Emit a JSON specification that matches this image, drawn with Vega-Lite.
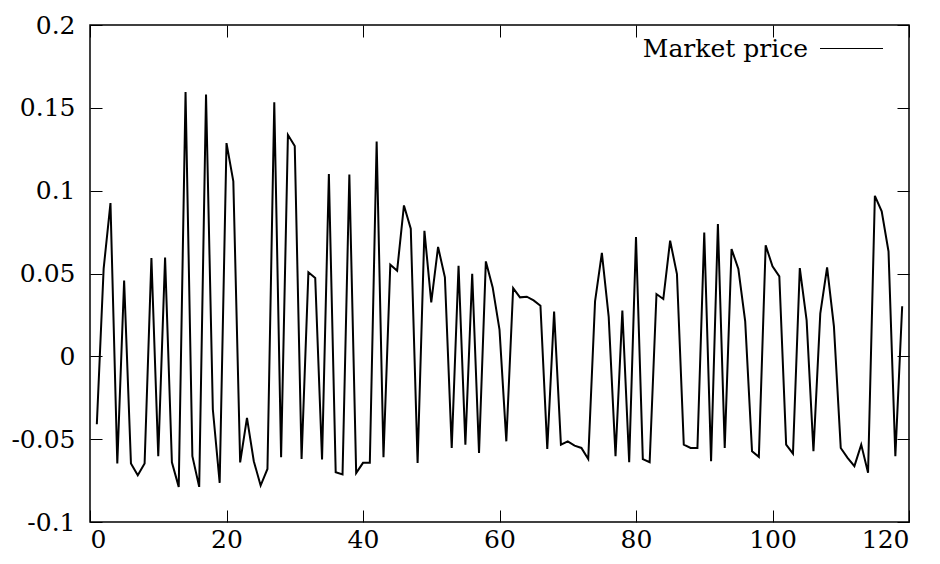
{
  "$schema": "https://vega.github.io/schema/vega-lite/v6.json",
  "width": 819,
  "height": 497,
  "autosize": {"type": "none"},
  "padding": {"left": 90, "top": 25, "right": 31, "bottom": 42},
  "background": "white",
  "config": {
    "view": {"stroke": "black", "strokeWidth": 1.5},
    "axis": {
      "grid": false,
      "domain": false,
      "ticks": true,
      "tickSize": -12,
      "tickColor": "black",
      "tickWidth": 1,
      "labelFont": "DejaVu Serif",
      "labelFontSize": 25,
      "labelColor": "black",
      "title": null
    }
  },
  "data": {
    "values": [
      {"x": 1, "y": -0.041}, {"x": 2, "y": 0.053}, {"x": 3, "y": 0.0925}, {"x": 4, "y": -0.0647},
      {"x": 5, "y": 0.0458}, {"x": 6, "y": -0.0647}, {"x": 7, "y": -0.0718}, {"x": 8, "y": -0.0647},
      {"x": 9, "y": 0.0593}, {"x": 10, "y": -0.0603}, {"x": 11, "y": 0.0597}, {"x": 12, "y": -0.064},
      {"x": 13, "y": -0.0788}, {"x": 14, "y": 0.1595}, {"x": 15, "y": -0.0603}, {"x": 16, "y": -0.0788},
      {"x": 17, "y": 0.158}, {"x": 18, "y": -0.0321}, {"x": 19, "y": -0.0764}, {"x": 20, "y": 0.1287},
      {"x": 21, "y": 0.1056}, {"x": 22, "y": -0.064}, {"x": 23, "y": -0.0372}, {"x": 24, "y": -0.0633},
      {"x": 25, "y": -0.078}, {"x": 26, "y": -0.068}, {"x": 27, "y": 0.1534}, {"x": 28, "y": -0.0609},
      {"x": 29, "y": 0.1337}, {"x": 30, "y": 0.127}, {"x": 31, "y": -0.062}, {"x": 32, "y": 0.0507},
      {"x": 33, "y": 0.0473}, {"x": 34, "y": -0.0623}, {"x": 35, "y": 0.11}, {"x": 36, "y": -0.07},
      {"x": 37, "y": -0.0713}, {"x": 38, "y": 0.1098}, {"x": 39, "y": -0.0705}, {"x": 40, "y": -0.0643},
      {"x": 41, "y": -0.0643}, {"x": 42, "y": 0.1297}, {"x": 43, "y": -0.0609}, {"x": 44, "y": 0.0553},
      {"x": 45, "y": 0.0517}, {"x": 46, "y": 0.0911}, {"x": 47, "y": 0.077}, {"x": 48, "y": -0.0643},
      {"x": 49, "y": 0.0758}, {"x": 50, "y": 0.0326}, {"x": 51, "y": 0.066}, {"x": 52, "y": 0.0477},
      {"x": 53, "y": -0.0553}, {"x": 54, "y": 0.0547}, {"x": 55, "y": -0.0533}, {"x": 56, "y": 0.0499},
      {"x": 57, "y": -0.0583}, {"x": 58, "y": 0.0573}, {"x": 59, "y": 0.0416}, {"x": 60, "y": 0.0161},
      {"x": 61, "y": -0.0513}, {"x": 62, "y": 0.0412}, {"x": 63, "y": 0.0356}, {"x": 64, "y": 0.036},
      {"x": 65, "y": 0.0338}, {"x": 66, "y": 0.0306}, {"x": 67, "y": -0.0559}, {"x": 68, "y": 0.0271},
      {"x": 69, "y": -0.0533}, {"x": 70, "y": -0.0513}, {"x": 71, "y": -0.0539}, {"x": 72, "y": -0.0553},
      {"x": 73, "y": -0.062}, {"x": 74, "y": 0.0332}, {"x": 75, "y": 0.0624}, {"x": 76, "y": 0.0238},
      {"x": 77, "y": -0.0603}, {"x": 78, "y": 0.0276}, {"x": 79, "y": -0.0639}, {"x": 80, "y": 0.072},
      {"x": 81, "y": -0.062}, {"x": 82, "y": -0.0639}, {"x": 83, "y": 0.0376}, {"x": 84, "y": 0.0346},
      {"x": 85, "y": 0.0698}, {"x": 86, "y": 0.0497}, {"x": 87, "y": -0.0533}, {"x": 88, "y": -0.0553},
      {"x": 89, "y": -0.0553}, {"x": 90, "y": 0.0748}, {"x": 91, "y": -0.0633}, {"x": 92, "y": 0.0799},
      {"x": 93, "y": -0.0553}, {"x": 94, "y": 0.0648}, {"x": 95, "y": 0.0527}, {"x": 96, "y": 0.0211},
      {"x": 97, "y": -0.0573}, {"x": 98, "y": -0.0607}, {"x": 99, "y": 0.067}, {"x": 100, "y": 0.0543},
      {"x": 101, "y": 0.0483}, {"x": 102, "y": -0.0533}, {"x": 103, "y": -0.0587}, {"x": 104, "y": 0.0533},
      {"x": 105, "y": 0.0217}, {"x": 106, "y": -0.0573}, {"x": 107, "y": 0.0258}, {"x": 108, "y": 0.0537},
      {"x": 109, "y": 0.0181}, {"x": 110, "y": -0.0553}, {"x": 111, "y": -0.0613}, {"x": 112, "y": -0.0663},
      {"x": 113, "y": -0.0533}, {"x": 114, "y": -0.0703}, {"x": 115, "y": 0.0969}, {"x": 116, "y": 0.0875},
      {"x": 117, "y": 0.0633}, {"x": 118, "y": -0.0603}, {"x": 119, "y": 0.0302}
    ]
  },
  "layer": [
    {
      "mark": {"type": "line", "strokeWidth": 2, "clip": true},
      "encoding": {
        "x": {
          "field": "x", "type": "quantitative",
          "scale": {"domain": [0, 120], "nice": false, "zero": false},
          "axis": {"orient": "bottom", "values": [0, 20, 40, 60, 80, 100, 120], "labelPadding": 17}
        },
        "y": {
          "field": "y", "type": "quantitative",
          "scale": {"domain": [-0.1, 0.2], "nice": false, "zero": false},
          "axis": {
            "orient": "left",
            "values": [-0.1, -0.05, 0, 0.05, 0.1, 0.15, 0.2],
            "labelPadding": 27,
            "labelExpr": "replace(format(datum.value, '.2~f'), '\u2212', '-')"
          }
        },
        "color": {
          "datum": "Market price",
          "type": "nominal",
          "scale": {"range": ["black"]},
          "legend": {
            "title": null,
            "orient": "none",
            "legendX": 729,
            "legendY": -9,
            "padding": 0,
            "symbolType": "stroke",
            "symbolStrokeWidth": 1.2,
            "symbolSize": 3969,
            "labelAlign": "right",
            "labelOffset": -76,
            "labelLimit": 0,
            "labelFont": "DejaVu Serif",
            "labelFontSize": 25,
            "labelColor": "black"
          }
        }
      }
    },
    {
      "mark": {"type": "line", "opacity": 0},
      "encoding": {
        "x": {
          "field": "x", "type": "quantitative",
          "axis": {"orient": "top", "values": [0, 20, 40, 60, 80, 100, 120], "labels": false}
        },
        "y": {
          "field": "y", "type": "quantitative",
          "axis": {"orient": "right", "values": [-0.1, -0.05, 0, 0.05, 0.1, 0.15, 0.2], "labels": false}
        }
      }
    }
  ],
  "resolve": {"axis": {"x": "independent", "y": "independent"}}
}
